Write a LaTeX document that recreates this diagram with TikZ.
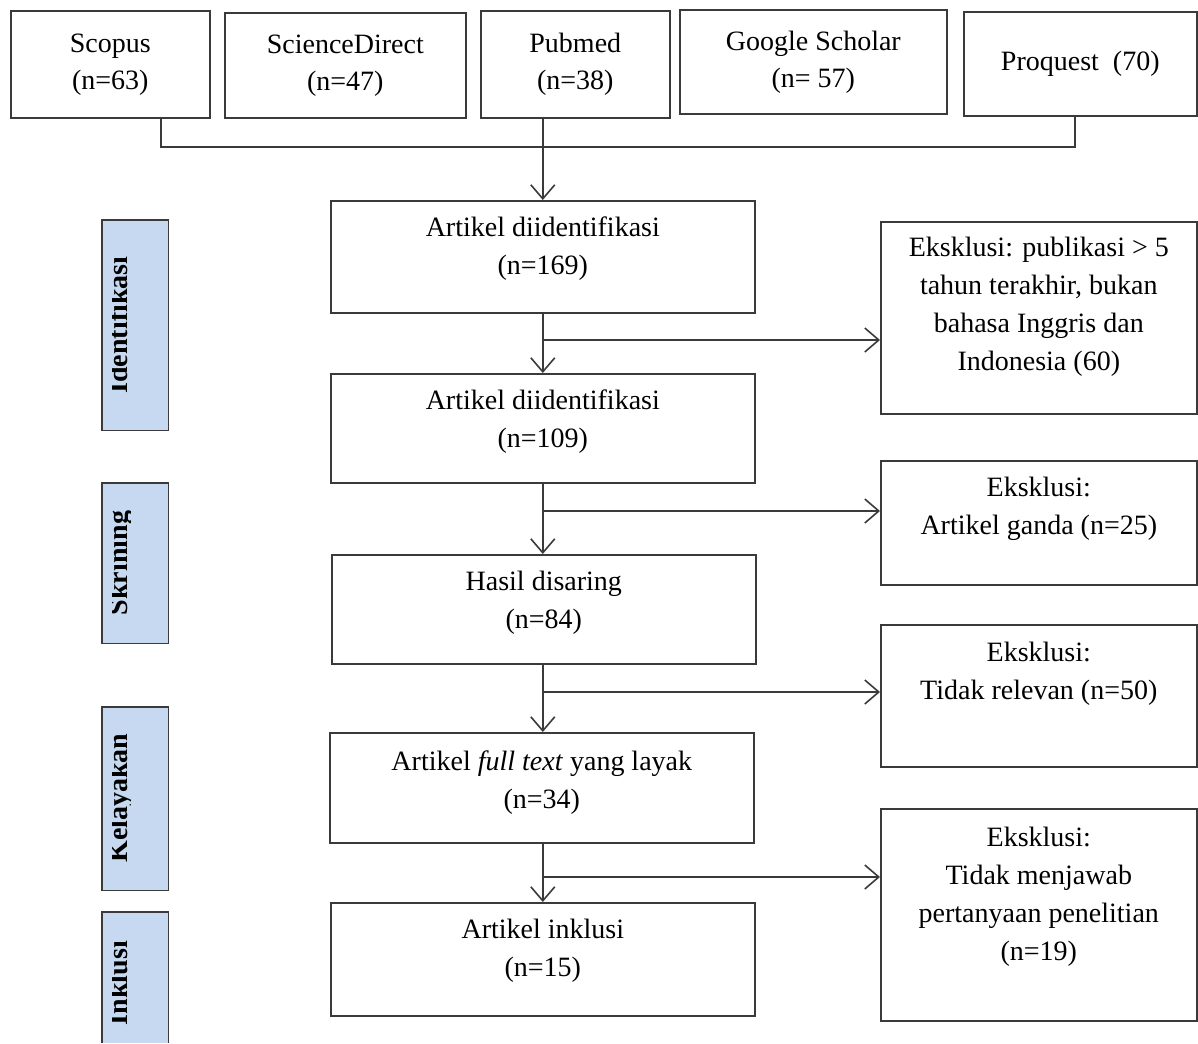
\documentclass[tikz,border=0pt]{standalone}
\usepackage{fontspec}
\setmainfont{Liberation Serif}
\usetikzlibrary{arrows.meta}
\definecolor{lineg}{HTML}{3A3A3A}
\definecolor{sideblue}{HTML}{C6D9F1}
\tikzset{
  box/.style={draw=lineg, line width=1.6pt, fill=white, rectangle, inner sep=0pt, anchor=north west, align=center, font=\fontsize{28}{37}\selectfont},
  txt/.style={inner sep=0pt, anchor=north, align=center, font=\fontsize{28}{38}\selectfont},
  sidebox/.style={fill=sideblue, rectangle, inner sep=0pt, anchor=north west},
  sidetxt/.style={inner sep=0pt, anchor=base, rotate=90, font=\fontsize{28}{34}\selectfont\bfseries},
  conn/.style={draw=lineg, line width=1.6pt},
  arr/.style={conn, -{Straight Barb[length=14pt,width=24pt,line width=1.6pt]}},
}
\begin{document}
\begin{tikzpicture}[x=1pt,y=-1pt]
\useasboundingbox (0,0) rectangle (1198,1043);
% top sources
\node[box, minimum width=199pt, minimum height=107pt] (scopus) at (10,10) {Scopus\\(n=63)};
\node[box, minimum width=241pt, minimum height=105pt] (sd) at (224,12) {ScienceDirect\\(n=47)};
\node[box, minimum width=189pt, minimum height=107pt] (pubmed) at (480,10) {Pubmed\\(n=38)};
\node[box, minimum width=267pt, minimum height=104pt] (gs) at (679,9) {Google Scholar\\(n= 57)};
\node[box, minimum width=233pt, minimum height=104pt] (proquest) at (963,11) {Proquest~~(70)};
% main column boxes
\node[box, minimum width=424pt, minimum height=112pt] (a1) at (330,200) {};
\node[box, minimum width=424pt, minimum height=109pt] (a2) at (330,373) {};
\node[box, minimum width=424pt, minimum height=109pt] (a3) at (331,554) {};
\node[box, minimum width=424pt, minimum height=110pt] (a4) at (329,732) {};
\node[box, minimum width=424pt, minimum height=113pt] (a5) at (330,902) {};
\node[txt] (a1t) at ([yshift=-10pt]a1.north) {\strut Artikel diidentifikasi\\(n=169)};
\node[txt] (a2t) at ([yshift=-10pt]a2.north) {\strut Artikel diidentifikasi\\(n=109)};
\node[txt] (a3t) at ([yshift=-10pt]a3.north) {\strut Hasil disaring\\(n=84)};
\node[txt] (a4t) at ([yshift=-12pt]a4.north) {\strut Artikel \textit{full text} yang layak\\(n=34)};
\node[txt] (a5t) at ([yshift=-10pt]a5.north) {\strut Artikel inklusi\\(n=15)};
% exclusion boxes
\node[box, minimum width=316pt, minimum height=192pt] (e1) at (880,221) {};
\node[box, minimum width=316pt, minimum height=124pt] (e2) at (880,460) {};
\node[box, minimum width=316pt, minimum height=142pt] (e3) at (880,624) {};
\node[box, minimum width=316pt, minimum height=212pt] (e4) at (880,808) {};
\node[txt] (e1t) at ([yshift=-9pt]e1.north) {\strut Eksklusi: publikasi > 5\\tahun terakhir, bukan\\bahasa Inggris dan\\Indonesia (60)};
\node[txt] (e2t) at ([yshift=-10pt]e2.north) {\strut Eksklusi:\\Artikel ganda (n=25)};
\node[txt] (e3t) at ([yshift=-11pt]e3.north) {\strut Eksklusi:\\Tidak relevan (n=50)};
\node[txt] (e4t) at ([yshift=-12pt]e4.north) {\strut Eksklusi:\\Tidak menjawab\\pertanyaan penelitian\\(n=19)};
% side stage labels
\node[sidebox, minimum width=66pt, minimum height=210pt] (s1) at (102,220) {};
\node[sidebox, minimum width=66pt, minimum height=160pt] (s2) at (102,483) {};
\node[sidebox, minimum width=66pt, minimum height=183pt] (s3) at (102,707) {};
\node[sidebox, minimum width=66pt, minimum height=131pt] (s4) at (102,912) {};
\begin{scope}
  \clip (112.5,200) rectangle (130.5,1043);
  \node[sidetxt] (s1t) at (127,325) {Identifikasi};
  \node[sidetxt] (s2t) at (127,563) {Skrining};
  \node[sidetxt] (s3t) at (127,798) {Kelayakan};
  \node[sidetxt] (s4t) at (127,983) {Inklusi};
\end{scope}
\draw[conn] (s1.south west) rectangle (s1.north east);
\draw[conn] (s2.south west) rectangle (s2.north east);
\draw[conn] (s3.south west) rectangle (s3.north east);
\draw[conn] (s4.south west) |- (s4.north east) -- (s4.south east);
% connectors from sources
\coordinate (hbL) at (161,147);
\coordinate (hbR) at (1075,147);
\draw[conn] (hbL |- scopus.south) -- (hbL) -- (hbR) -- (hbR |- proquest.south);
\draw[arr] (a1.north |- pubmed.south) -- (a1.north);
% main flow
\draw[arr] (a1.south) -- (a2.north);
\draw[arr] (a2.south) -- (a2.south |- a3.north);
\draw[arr] (a3.south -| a2.south) -- (a2.south |- a4.north);
\draw[arr] (a4.south -| a2.south) -- (a2.south |- a5.north);
% exclusion branches
\coordinate (b1) at (542,340);
\coordinate (b2) at (542,511);
\coordinate (b3) at (542,692);
\coordinate (b4) at (542,877);
\draw[arr] (b1) -- (b1 -| e1.west);
\draw[arr] (b2) -- (b2 -| e2.west);
\draw[arr] (b3) -- (b3 -| e3.west);
\draw[arr] (b4) -- (b4 -| e4.west);
\end{tikzpicture}
\end{document}
